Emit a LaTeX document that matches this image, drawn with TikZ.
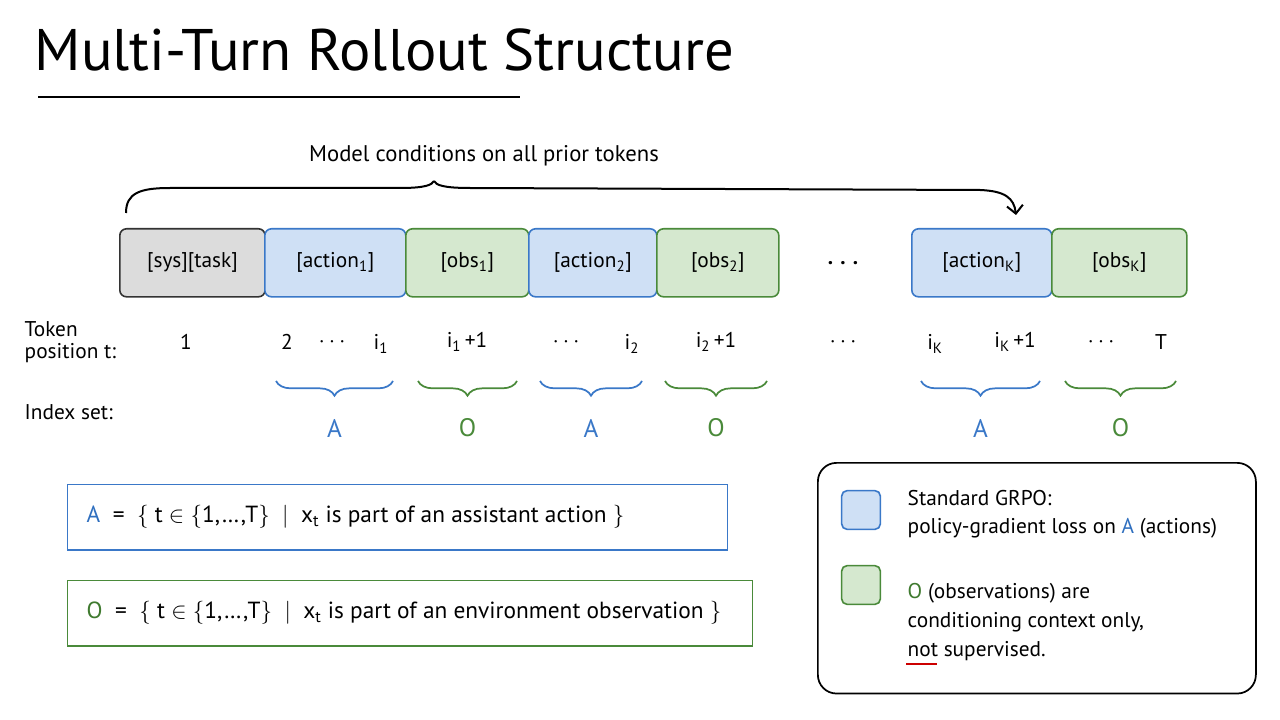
\documentclass[tikz,border=0pt]{standalone}
\usepackage{fontspec}
\setmainfont{PT Sans}
\usetikzlibrary{decorations.pathreplacing,arrows.meta}
\definecolor{bfill}{HTML}{CFE0F5}\definecolor{bline}{HTML}{3A78C8}
\definecolor{gfill}{HTML}{D5E8CF}\definecolor{gline}{HTML}{4A8A3A}
\definecolor{kfill}{HTML}{DCDCDC}\definecolor{kline}{HTML}{333333}
\definecolor{btxt}{HTML}{2F6FBF}\definecolor{gtxt}{HTML}{3F7A2F}
\newcommand{\sbs}[1]{\textsubscript{#1}}
\begin{document}
\begin{tikzpicture}[x=0.75pt,y=-0.75pt,
  tok/.style={draw,line width=1.2pt,rounded corners=5pt,minimum height=51pt,inner sep=0pt,font=\fontsize{16}{18}\selectfont,anchor=north west},
  act/.style={tok,fill=bfill,draw=bline},
  obs/.style={tok,fill=gfill,draw=gline},
  lbl/.style={font=\fontsize{16}{18}\selectfont},
  dtx/.style={font=\fontsize{17.5}{20}\selectfont,anchor=west},
  br/.style={decorate,decoration={brace,mirror,amplitude=11pt},line width=1.3pt},
  def/.style={draw,line width=0.9pt,anchor=north west,inner sep=0pt,minimum height=49pt}]
\useasboundingbox (0,0) rectangle (1280,720);
\fill[white] (0,0) rectangle (1280,720);
\node[anchor=west,font=\fontsize{44}{48}\selectfont] (title) at (30,50) {Multi-Turn Rollout Structure};
\draw[line width=2.2pt] (38,97) coordinate (u1) -- (520,97) coordinate (u2);
% tokens
\node[tok,fill=kfill,draw=kline,minimum width=109pt] (s) at (119,228) {[sys][task]};
\node[act,minimum width=105.75pt] (a1) at (264,228) {[action\sbs{1}]};
\node[obs,minimum width=92.25pt] (o1) at (405,228) {[obs\sbs{1}]};
\node[act,minimum width=96pt] (a2) at (528,228) {[action\sbs{2}]};
\node[obs,minimum width=91.5pt] (o2) at (656,228) {[obs\sbs{2}]};
\node[lbl] (dd) at (843,263) {\textbf{. . .}};
\node[act,minimum width=105pt] (aK) at (911,228) {[action\sbs{K}]};
\node[obs,minimum width=101.25pt] (oK) at (1051,228) {[obs\sbs{K}]};
% top arc
\coordinate (c0) at (126,213); \coordinate (c1) at (434,181); \coordinate (c2) at (1016,215);
\draw[line width=1.5pt] (c0) .. controls (126,193) and (140,188) .. (170,188) -- (400,188) .. controls (425,188) and (432,185) .. (c1);
\draw[line width=1.5pt,-{Straight Barb[length=6pt,width=12pt]}] (c1) .. controls (436,185) and (443,188) .. (470,188) -- (980,190) .. controls (1005,191) and (1014,198) .. (c2);
\node[lbl,font=\fontsize{17}{20}\selectfont] (mc) at (484,156) {Model conditions on all prior tokens};
% token positions
\node[lbl,anchor=west,align=left] (tp) at (20,342) {Token\\[-1pt]position t:};
\node[lbl] (p1) at (186,342) {1};
\node[lbl] (p2) at (287,342) {2};
\node[lbl] (p3) at (332,342) {$\cdots$};
\node[lbl] (p4) at (381,344) {i\sbs{1}};
\node[lbl] (p5) at (467,342) {i\sbs{1}\,+1};
\node[lbl] (p6) at (566,342) {$\cdots$};
\node[lbl] (p7) at (632,344) {i\sbs{2}};
\node[lbl] (p8) at (716,342) {i\sbs{2}\,+1};
\node[lbl] (p9) at (843,342) {$\cdots$};
\node[lbl] (p10) at (935,344) {i\sbs{K}};
\node[lbl] (p11) at (1015,342) {i\sbs{K}\,+1};
\node[lbl] (p12) at (1101,342) {$\cdots$};
\node[lbl] (p13) at (1161,342) {T};
\node[lbl,anchor=west] (is) at (20,412) {Index set:};
% braces
\foreach \xa/\xb/\c/\t/\n in {276/393/bline/A/b1,418/517/gline/O/b2,540/642/bline/A/b3,665/767/gline/O/b4,921/1040/bline/A/b5,1065/1176/gline/O/b6}{
  \draw[br,draw=\c] (\xa,381) -- (\xb,381);
  \node[lbl,text=\c,font=\fontsize{19}{22}\selectfont] (\n) at ({(\xa+\xb)/2},428) {\t};
}
% definitions
\node[def,draw=bline,minimum width=495pt] (dA) at (67,484) {};
\node[dtx] (dAt) at (82,517) {\textcolor{btxt}{A} \ = \ $\{$ t $\in$ $\{$1,\ldots,T$\}$ \ $\big|$ \ x\sbs{t} is part of an assistant action $\}$};
\node[def,draw=gline,minimum width=513.75pt] (dO) at (67,580) {};
\node[dtx] (dOt) at (82,613) {\textcolor{gtxt}{O} \ = \ $\{$ t $\in$ $\{$1,\ldots,T$\}$ \ $\big|$ \ x\sbs{t} is part of an environment observation $\}$};
% legend
\node[draw,line width=1.3pt,rounded corners=14pt,anchor=north west,minimum width=328.5pt,minimum height=173pt,inner sep=0pt] (leg) at (817,462) {};
\node[draw=bline,fill=bfill,line width=1.2pt,rounded corners=4pt,minimum size=29pt,inner sep=0pt] (sw1) at (861,510) {};
\node[draw=gline,fill=gfill,line width=1.2pt,rounded corners=4pt,minimum size=29pt,inner sep=0pt] (sw2) at (861,585) {};
\node[lbl,anchor=west] (l1) at (903,498) {Standard GRPO:};
\node[lbl,anchor=west] (l1b) at (903,528) {policy-gradient loss on \textcolor{btxt}{A} (actions)};
\node[lbl,anchor=west] (l2) at (903,593) {\textcolor{gtxt}{O} (observations) are};
\node[lbl,anchor=west] (l2b) at (903,622) {conditioning context only,};
\node[lbl,anchor=west] (l2c) at (903,651) {not supervised.};
\draw[red!80!black,line width=1.2pt] (906,664) coordinate (r1) -- (937,664) coordinate (r2);
\end{tikzpicture}
\end{document}
